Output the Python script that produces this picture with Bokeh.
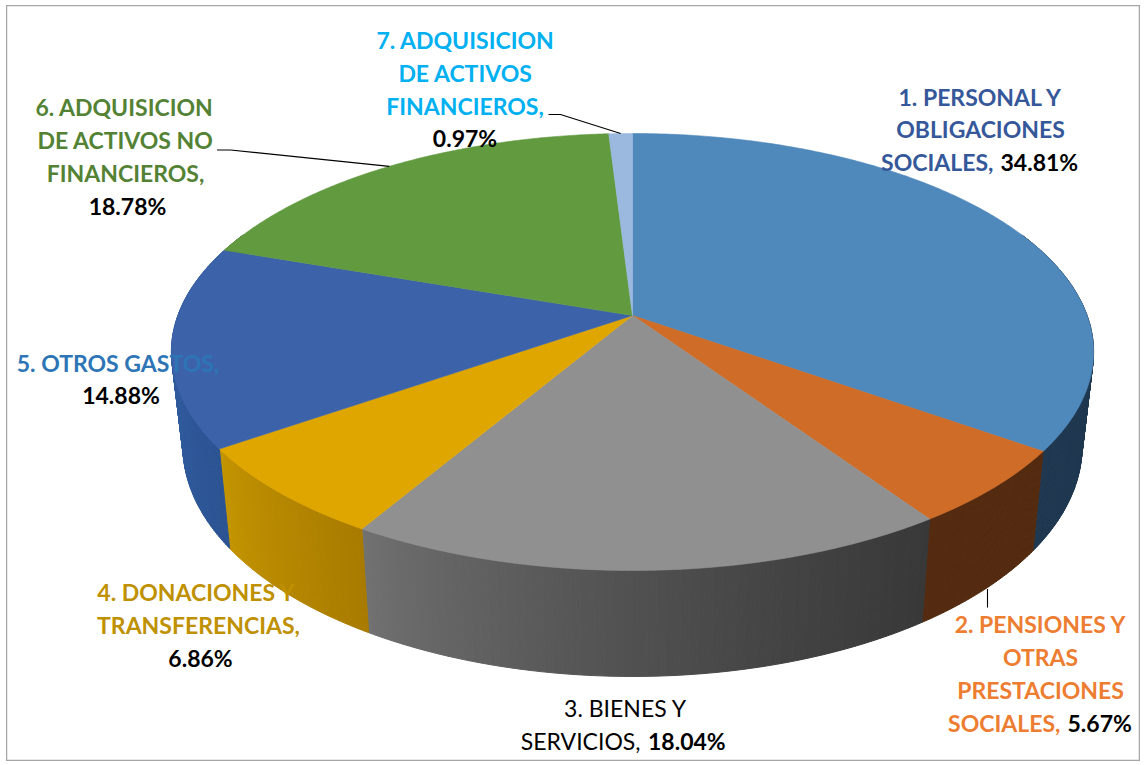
import numpy as np
from bokeh.plotting import figure
from bokeh.core.properties import value
from bokeh.embed import file_html
from bokeh.resources import INLINE

# Data
categories = ["1. PERSONAL Y OBLIGACIONES SOCIALES", "2. PENSIONES Y OTRAS PRESTACIONES SOCIALES",
              "3. BIENES Y SERVICIOS", "4. DONACIONES Y TRANSFERENCIAS", "5. OTROS GASTOS",
              "6. ADQUISICION DE ACTIVOS NO FINANCIEROS", "7. ADQUISICION DE ACTIVOS FINANCIEROS"]
values = [34.81, 5.67, 18.04, 6.86, 14.88, 18.78, 0.97]
top_colors = ["#4f88bb", "#cf6c27", "#909090", "#e0a600", "#3c63aa", "#629a3f", "#9bb9df"]
side_left = ["#1f3850", "#542b10", "#727272", "#c49500", "#2f5a9c", "#4a7530", "#7590b0"]
side_right = ["#1f3850", "#542b10", "#383838", "#a87b00", "#2c5392", "#4a7530", "#7590b0"]

# Projection of the disc (perspective view)
CX, CY, R, S, K = 632.0, 315.0, 454.6, 212.4, 0.167
F, D0, DS = 0.975, 99.5, 0.054

def top(theta):
    u, v = np.sin(theta), -np.cos(theta)
    w = 1 - K * v
    return CX + R * u / w, CY + S * v / w

def bottom(x, y):
    return CX + (x - CX) * F, y + D0 + DS * (y - 450)

def hex2rgb(h):
    return np.array([int(h[i:i + 2], 16) for i in (1, 3, 5)], float)

fracs = np.array(values) / sum(values)
edges = np.concatenate([[0], np.cumsum(fracs)]) * 2 * np.pi

p = figure(width=1134, height=756, x_range=(6, 1140), y_range=(761, 5),
           output_backend="svg", toolbar_location=None, min_border=0,
           margin=(5, 0, 0, 6), background_fill_color="white")
p.axis.visible = False
p.grid.visible = False
p.outline_line_color = "#a6a6a6"
p.outline_line_width = 1.5

# Side wall
for i in range(len(values)):
    a0, a1 = edges[i], edges[i + 1]
    n = max(2, int((a1 - a0) / np.radians(0.5)))
    th = np.linspace(a0, a1, n + 1)
    tx, ty = top(th)
    bx, by = bottom(tx, ty)
    lo, hi = tx.min(), tx.max()
    cl, cr = hex2rgb(side_left[i]), hex2rgb(side_right[i])
    xs, ys, cols = [], [], []
    for j in range(n):
        if -np.cos(th[j]) < -0.4 and -np.cos(th[j + 1]) < -0.4:
            continue
        xs.append([tx[j], tx[j + 1], bx[j + 1], bx[j]])
        ys.append([ty[j], ty[j + 1], by[j + 1], by[j]])
        t = ((tx[j] + tx[j + 1]) / 2 - lo) / max(hi - lo, 1)
        c = cl + (cr - cl) * t ** 0.75
        cols.append("#%02x%02x%02x" % tuple(int(round(q)) for q in c))
    if xs:
        p.patches(xs, ys, fill_color=cols, line_color=cols, line_width=1)

# Top face
for i in range(len(values)):
    th = np.linspace(edges[i], edges[i + 1], max(3, int((edges[i + 1] - edges[i]) / np.radians(0.5))))
    tx, ty = top(th)
    p.patch(np.r_[CX, tx], np.r_[CY, ty], fill_color=top_colors[i], line_color=top_colors[i], line_width=0.6)

# Leader lines, anchored on the slice midpoints
mids = (edges[:-1] + edges[1:]) / 2
mx6, my6 = top(mids[5])
p.line([216.5, 230, mx6], [149.5, 149.5, my6], line_color="black", line_width=1.1)
mx7, my7 = top(mids[6])
p.line([548, 560, mx7], [114, 114, my7], line_color="black", line_width=1.1)
mx2, my2 = bottom(*top(mids[1]))
p.line([987, 987], [my2, 607], line_color="black", line_width=1.1)

# Labels: (text, x, y, align, colour, bold)
BLUE, ORANGE, GOLD, MID, GREEN, CYAN = "#35589a", "#ed7d31", "#bf9000", "#2e75b6", "#548235", "#00b0f0"
labels = [
    ("1. PERSONAL Y", 980, 96.5, "center", BLUE, True),
    ("OBLIGACIONES", 980, 128.5, "center", BLUE, True),
    ("SOCIALES,", 993, 161.5, "right", BLUE, True),
    ("34.81%", 1000, 161.5, "left", "black", True),
    ("2. PENSIONES Y", 1040, 623.5, "center", ORANGE, True),
    ("OTRAS", 1040, 656.5, "center", ORANGE, True),
    ("PRESTACIONES", 1040, 689.5, "center", ORANGE, True),
    ("SOCIALES,", 1060, 722.5, "right", ORANGE, True),
    ("5.67%", 1067, 722.5, "left", "black", True),
    ("3. BIENES Y", 625, 707.5, "center", "black", False),
    ("SERVICIOS,", 640, 740.5, "right", "black", False),
    ("18.04%", 647.5, 740.5, "left", "black", True),
    ("4. DONACIONES Y", 196, 591.5, "center", GOLD, True),
    ("TRANSFERENCIAS,", 198, 624.5, "center", GOLD, True),
    ("6.86%", 200, 657.5, "center", "black", True),
    ("5. OTROS GASTOS,", 117.5, 362.5, "center", MID, True),
    ("14.88%", 120.5, 394.5, "center", "black", True),
    ("6. ADQUISICION", 124, 106.5, "center", GREEN, True),
    ("DE ACTIVOS NO", 125, 139.5, "center", GREEN, True),
    ("FINANCIEROS,", 125, 172.5, "center", GREEN, True),
    ("18.78%", 127, 205.5, "center", "black", True),
    ("7. ADQUISICION", 465, 39.5, "center", CYAN, True),
    ("DE ACTIVOS", 465, 72.5, "center", CYAN, True),
    ("FINANCIEROS,", 464.5, 105.5, "center", CYAN, True),
    ("0.97%", 464.5, 137.5, "center", "black", True),
]
for t, x, y, al, col, bold in labels:
    p.text([x], [y], text=[t], text_align=al, text_baseline="middle", text_color=col,
           text_font=value("Lato"), text_font_size="23px",
           text_font_style="bold" if bold else "normal")

open("out.html", "w").write(file_html(p, INLINE))
